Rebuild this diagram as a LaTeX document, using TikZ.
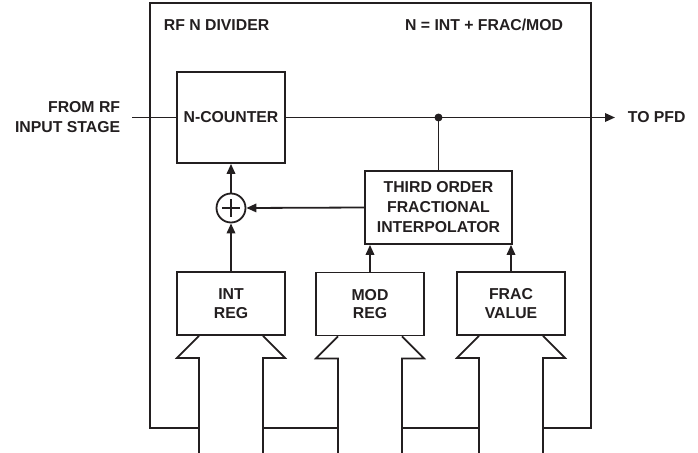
\documentclass[tikz,border=0pt]{standalone}
\usepackage{fontspec}
\setmainfont{Liberation Sans}
\usetikzlibrary{arrows.meta}
\definecolor{ink}{HTML}{231F20}

\begin{document}
\begin{tikzpicture}[x=1pt, y=-1pt, line width=1.8pt, color=ink,
    font=\fontsize{15.8}{20}\selectfont\bfseries,
    block/.style = {draw, rectangle, inner sep=0pt, align=center},
    reg/.style = {block, minimum width=108pt, minimum height=63pt, font=\fontsize{15.8}{18.5}\selectfont\bfseries},
    sig/.style = {-{Triangle[length=10pt, width=8.5pt]}},
    lbl/.style = {inner sep=0pt}]

    \useasboundingbox (0,0) rectangle (698,452);

    % outer frame
    \draw (150,3) rectangle (591,428);
    \node[lbl, anchor=west] (title) at (163,25) {RF N DIVIDER};
    \node[lbl, anchor=east] (formula) at (564,25) {N = INT + FRAC/MOD};

    % blocks
    \node[block, minimum width=108pt, minimum height=91pt] (ncount) at (231,117.5) {N-COUNTER};
    \node[block, minimum width=147pt, minimum height=73pt] (interp) at (438.5,207.5) {THIRD ORDER\\FRACTIONAL\\INTERPOLATOR};
    \node[draw, circle, minimum size=29pt, inner sep=0pt] (sum) at (231,208) {};
    \draw[line width=1.5pt] ([yshift=9pt]sum.center) -- ([yshift=-9pt]sum.center);
    \draw[line width=1.5pt] ([xshift=-9pt]sum.center) -- ([xshift=9pt]sum.center);

    \node[reg] (intreg) at (231,303.5) {INT\\REG};
    \node[reg] (modreg) at (370,304) {MOD\\REG};
    \node[reg] (fracval) at (511,303.5) {FRAC\\VALUE};

    % input and output
    \node[lbl, anchor=east, align=right] (rftxt) at (121,117.5) {FROM RF\\INPUT STAGE};
    \coordinate (rfin) at (132,117.5);
    \coordinate (pfd) at (615,117.5);
    \node[lbl, anchor=west] (pfdtxt) at (627,117.5) {TO PFD};
    \coordinate (tap) at (interp.north |- ncount.east);
    \coordinate (base) at (0,453);

    \draw (rfin) -- (ncount.west);
    \draw[sig] (ncount.east) -- (pfd);
    \fill (tap) circle (4pt);
    \draw (tap) -- (interp.north);

    \draw[sig] (intreg.north) -- (sum.south);
    \draw[sig] (sum.north) -- (ncount.south);
    \draw[sig] (interp.west) -- (sum.east);
    \draw[sig] (modreg.north) -- (modreg.north |- interp.south);
    \draw[sig] (fracval.north) -- (fracval.north |- interp.south);

    % buses
    \foreach \r in {intreg, modreg, fracval}{
        \fill[white] ([xshift=-32pt]\r.south) rectangle ([xshift=32pt]\r.south |- base);
        \draw[line join=miter] ([xshift=-32pt]\r.south |- base) -- ([xshift=-32pt, yshift=-22pt]\r.south)
            -- ([xshift=-54pt, yshift=-22pt]\r.south) -- ([xshift=-32pt]\r.south);
        \draw[line join=miter] ([xshift=32pt]\r.south |- base) -- ([xshift=32pt, yshift=-22pt]\r.south)
            -- ([xshift=54pt, yshift=-22pt]\r.south) -- ([xshift=32pt]\r.south);
    }

\end{tikzpicture}
\end{document}
